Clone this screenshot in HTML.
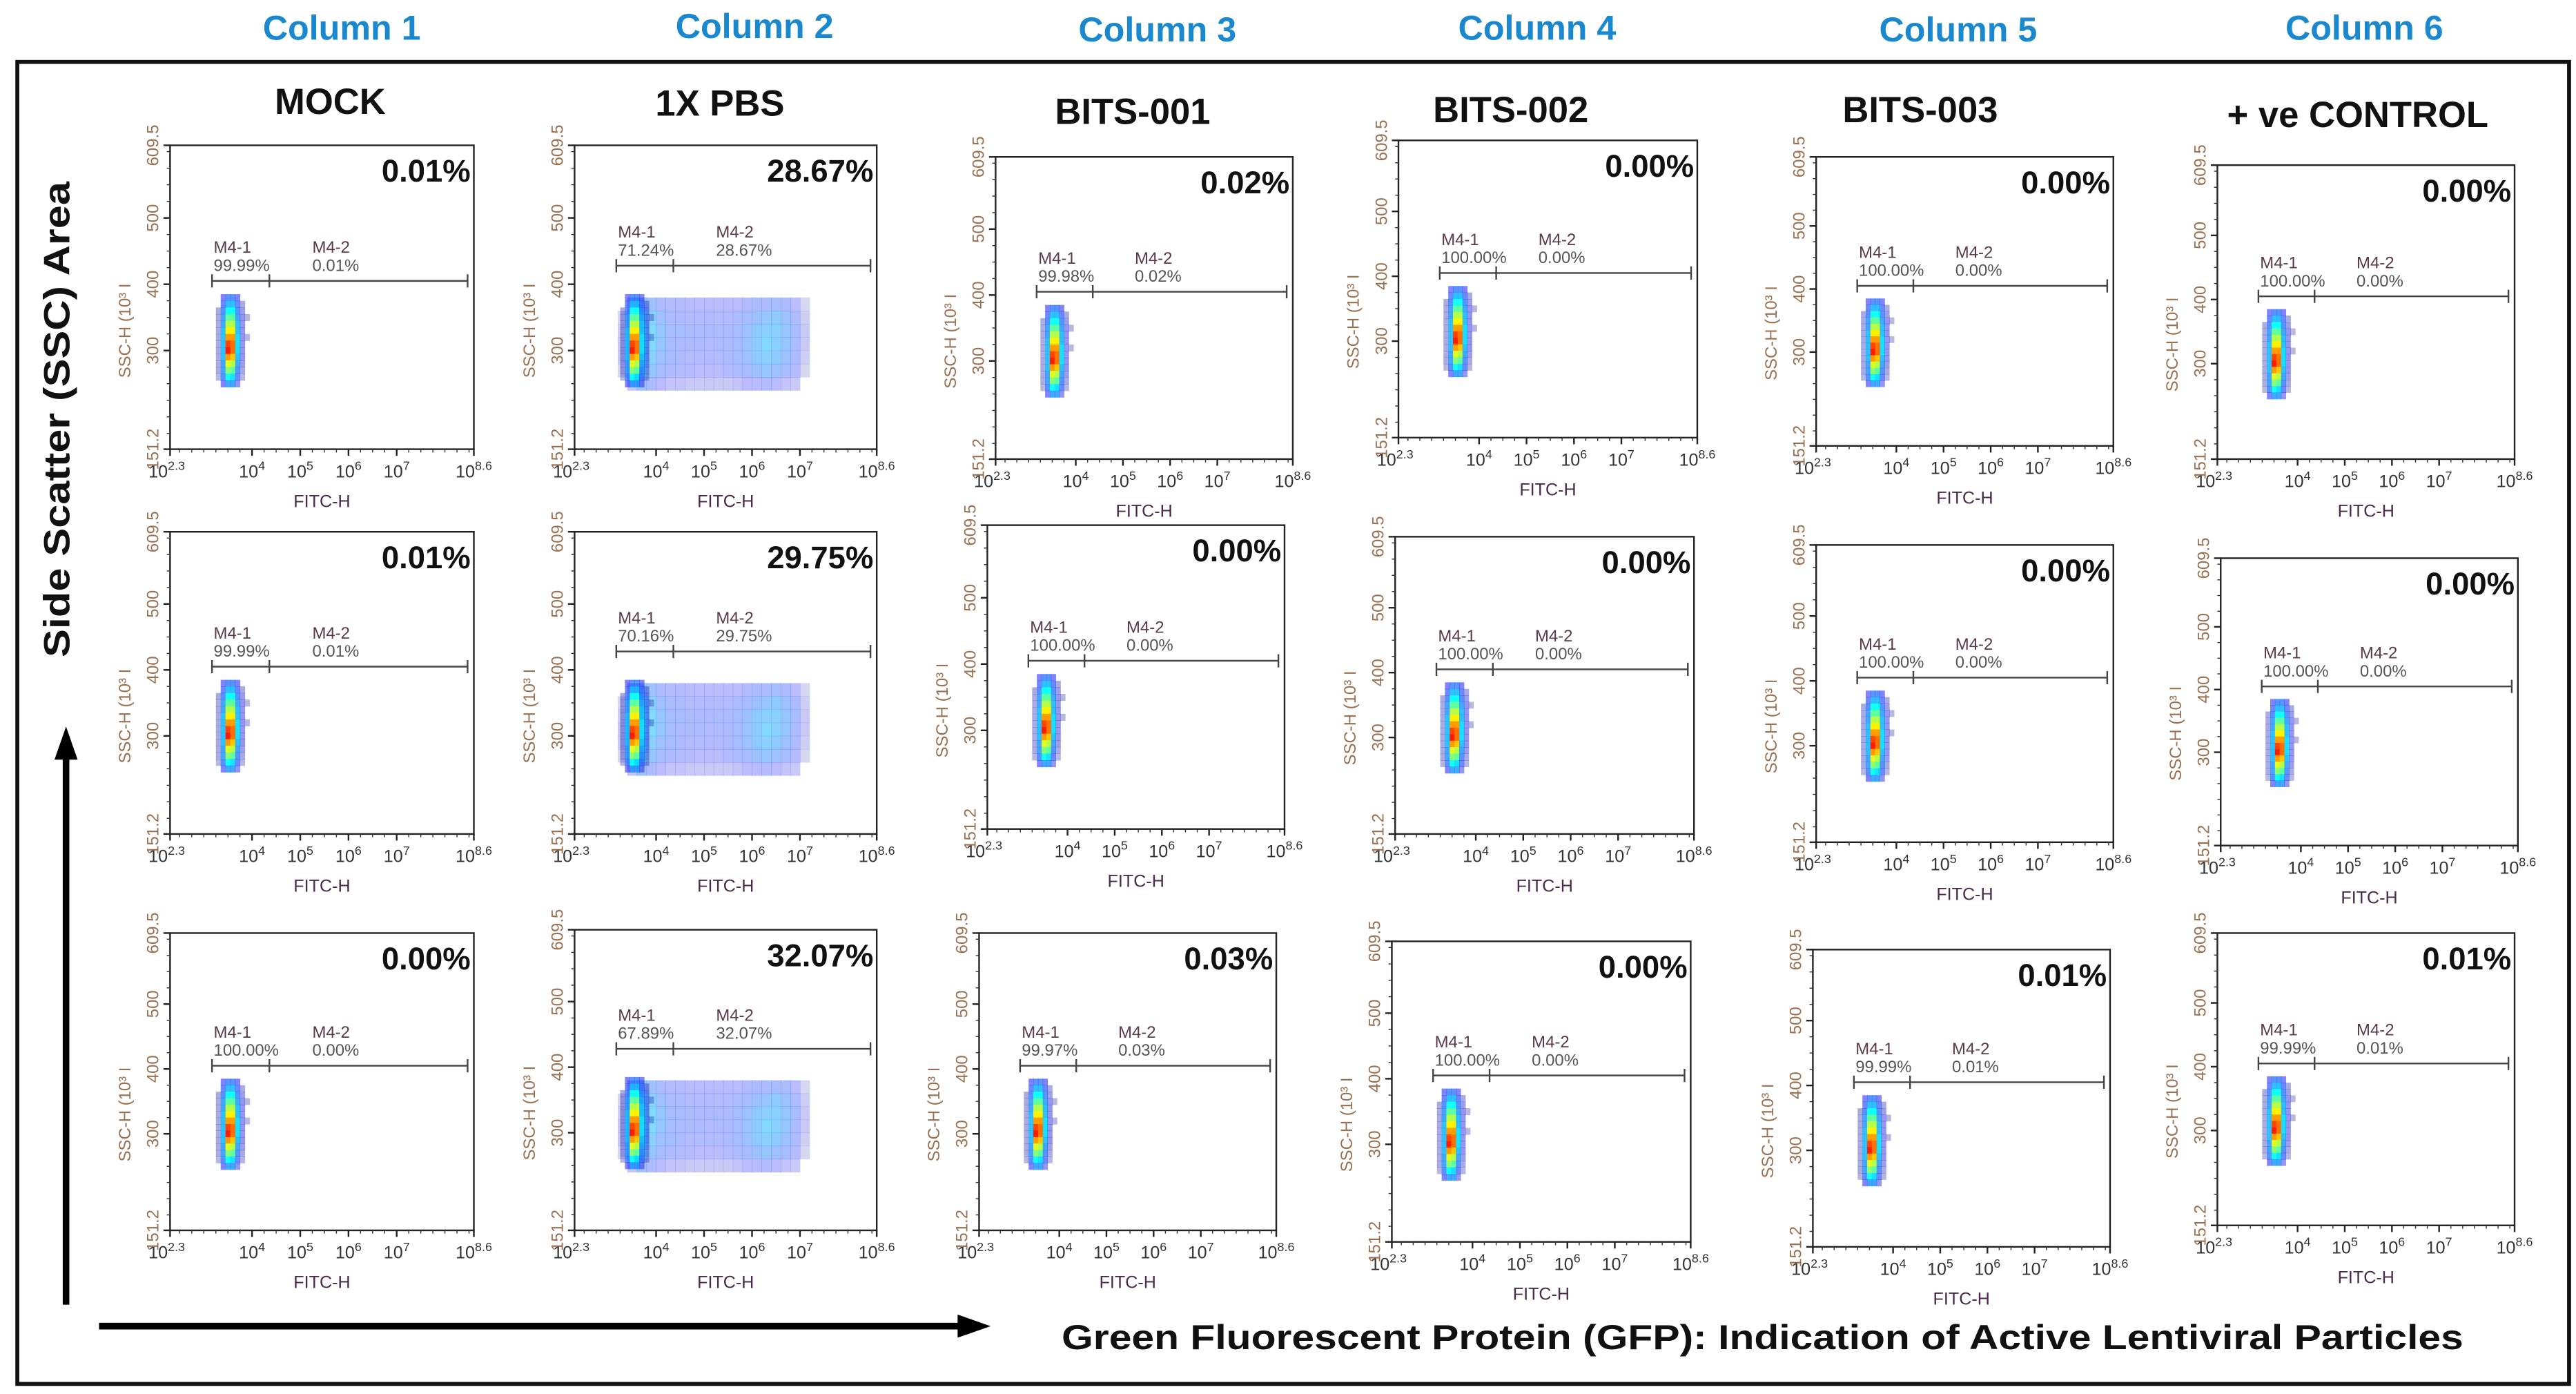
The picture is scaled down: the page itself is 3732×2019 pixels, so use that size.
<!DOCTYPE html>
<html><head><meta charset="utf-8"><style>
html,body{margin:0;padding:0;background:#fff;}
svg{display:block;font-family:"Liberation Sans",Arial,sans-serif;}
</style></head><body>
<svg id="fig" width="3732" height="2019" viewBox="0 0 1560.2 844.1" preserveAspectRatio="none" xmlns="http://www.w3.org/2000/svg">
<rect x="0" y="0" width="1560.2" height="844.1" fill="#fff"/>
<rect x="10.5" y="37.5" width="1545.5" height="800.5" fill="none" stroke="#111" stroke-width="2.4"/>
<g font-weight="bold" font-size="21" fill="#1a88cf" text-anchor="middle">
<text x="207" y="24">Column 1</text>
<text x="457" y="23">Column 2</text>
<text x="701" y="25">Column 3</text>
<text x="931" y="24">Column 4</text>
<text x="1186" y="25">Column 5</text>
<text x="1432" y="24">Column 6</text>
</g>
<g font-weight="bold" font-size="22" fill="#111" text-anchor="middle">
<text x="200" y="69">MOCK</text>
<text x="436" y="70">1X PBS</text>
<text x="686" y="75">BITS-001</text>
<text x="915" y="74">BITS-002</text>
<text x="1163" y="74">BITS-003</text>
<text x="1428" y="77">+ ve CONTROL</text>
</g>
<text transform="translate(42,254) rotate(-90)" text-anchor="middle" font-weight="bold" font-size="22" fill="#111" textLength="288" lengthAdjust="spacingAndGlyphs">Side  Scatter (SSC) Area</text>
<g>
<line x1="40" y1="790" x2="40" y2="458" stroke="#000" stroke-width="4"/>
<polygon points="40,440 33,460 47,460" fill="#000"/>
</g>
<g>
<line x1="60" y1="803" x2="582" y2="803" stroke="#000" stroke-width="4"/>
<polygon points="600,803 580,796 580,810" fill="#000"/>
</g>
<text x="643" y="817" font-weight="bold" font-size="21" fill="#111" textLength="849" lengthAdjust="spacingAndGlyphs">Green Fluorescent Protein (GFP): Indication of Active Lentiviral Particles</text>
<g id="panels"></g>
</svg>
<script>
// ---- data ----
const bigPercents = [
  ["0.01","28.67","0.02","0.00","0.00","0.00"],
  ["0.01","29.75","0.00","0.00","0.00","0.00"],
  ["0.00","32.07","0.03","0.00","0.01","0.01"]];
const m41Values = [
  ["99.99","71.24","99.98","100.00","100.00","100.00"],
  ["99.99","70.16","100.00","100.00","100.00","100.00"],
  ["100.00","67.89","99.97","100.00","99.99","99.99"]];
const m42Values = [
  ["0.01","28.67","0.02","0.00","0.00","0.00"],
  ["0.01","29.75","0.00","0.00","0.00","0.00"],
  ["0.00","32.07","0.03","0.00","0.01","0.01"]];
const gateExps = [3.17, 4.36, 8.47];
const gateSSC = [405, 428, 405, 405, 405, 405];
const xTickExps = [2.3, 4, 5, 6, 7, 8.6];
const xTickLabels = ["2.3", "4", "5", "6", "7", "8.6"];
const yTickValues = [151.2, 300, 400, 500, 609.5];
const yTickLabels = ["151.2", "300", "400", "500", "609.5"];
const narrowX = [3.3, 3.4, 3.5, 3.6, 3.7, 3.8, 3.9];
const narrowY = [380, 370, 360, 350, 340, 330, 320, 310, 300, 290, 280, 270, 260, 250];
const densityNarrow = [
 [0,.15,.25,.25,.15,0,0],
 [0,.2,.35,.35,.2,.05,0],
 [.05,.25,.45,.45,.25,.08,0],
 [.05,.3,.55,.55,.3,.1,.02],
 [.05,.3,.65,.65,.35,.1,0],
 [.05,.35,.75,.75,.35,.1,0],
 [.05,.35,.85,.85,.4,.1,.02],
 [.05,.35,.95,.9,.4,.1,0],
 [.05,.35,1,.9,.4,.1,0],
 [.05,.35,.85,.8,.35,.1,0],
 [.05,.3,.7,.65,.3,.08,0],
 [.05,.3,.6,.55,.25,.05,0],
 [.02,.25,.45,.4,.2,.02,0],
 [0,.15,.3,.3,.1,0,0]];
const wideX = [3.3,3.5,3.7,3.9,4.1,4.3,4.5,4.7,4.9,5.1,5.3,5.5,5.7,5.9,6.1,6.3,6.5,6.7,6.9,7.1];
const wideY = [370, 350, 330, 310, 290, 270, 250];
const densityWide = [
 [0,.15,.3,.25,.2,.18,.18,.15,.15,.15,.15,.15,.15,.18,.2,.2,.22,.2,.15,.05],
 [.05,.2,.4,.32,.25,.2,.2,.18,.18,.18,.18,.18,.2,.22,.25,.28,.3,.25,.2,.08],
 [.08,.25,.45,.35,.28,.22,.22,.2,.2,.2,.2,.2,.22,.25,.3,.32,.32,.28,.22,.1],
 [.1,.25,.45,.35,.28,.22,.2,.2,.2,.18,.2,.2,.22,.25,.3,.35,.32,.28,.2,.1],
 [.1,.25,.42,.32,.25,.22,.2,.18,.18,.18,.18,.2,.22,.25,.3,.32,.3,.25,.2,.08],
 [.05,.2,.38,.28,.22,.2,.18,.18,.15,.15,.15,.18,.2,.22,.25,.28,.25,.22,.18,.05],
 [0,.12,.25,.2,.15,.12,.12,.1,.1,.1,.1,.1,.12,.15,.15,.18,.15,.12,.1,0]];

// ---- layout (displayed units) ----
const colLefts = [[103,348,603,847,1100,1343],[103,348,598,845,1100,1345],[103,348,593,843,1098,1343]];
const rowTops = [[88,88,95,85,95,100],[322,322,318,325,330,338],[565,563,565,570,575,565]];
const rowBottoms = [[272,272,278,265,270,278],[505,505,502,505,510,512],[745,745,745,752,755,742]];
const colWidths = [184,183,180,181,180,180];

const NS = "http://www.w3.org/2000/svg";
const root = document.getElementById('panels');
function mk(tag, attrs, parent){ const e=document.createElementNS(NS,tag); for(const k in attrs) e.setAttribute(k,attrs[k]); (parent||root).appendChild(e); return e; }
function jet(v){ const t=Math.min(1,v)*0.85; const c=x=>Math.round(255*Math.max(0,Math.min(1,1.5-Math.abs(4*t-x)))); return `rgb(${c(3)},${c(2)},${c(1)})`; }

for(let r=0;r<3;r++){
 for(let c=0;c<6;c++){
  const P={x:colLefts[r][c], y:rowTops[r][c], w:colWidths[c], h:rowBottoms[r][c]-rowTops[r][c]};
  const xs=e=>P.x+(e-2.3)/6.3*P.w;
  const ys=v=>P.y+P.h-(v-151.2)/458.3*P.h;
  const g=mk('g',{});
  
  
  function drawGrid(X,Y,D,dx,dy,o0,o1){
   for(let i=0;i<Y.length;i++) for(let j=0;j<X.length;j++){
     const v=D[i][j]; if(!v) continue;
     const x0=xs(X[j]-dx/2), x1=xs(X[j]+dx/2), y0=ys(Y[i]+dy/2), y1=ys(Y[i]-dy/2);
     const cell=mk('rect',{x:x0,y:y0,width:x1-x0+0.2,height:y1-y0+0.2,fill:jet(v),'fill-opacity':Math.min(1,o0+v*o1)},g);
     
     
   }
  }
  if(c===1) drawGrid(wideX,wideY,densityWide,0.2,20,0.1,1.1);
  drawGrid(narrowX,narrowY,densityNarrow,0.1,10,0.25,1.6);
  const box=mk('rect',{x:P.x,y:P.y,width:P.w,height:P.h,fill:'none',stroke:'#222','stroke-width':1},g);
  
  
  for(let e=2.5;e<8.6;e+=0.25) mk('line',{x1:xs(e),x2:xs(e),y1:P.y+P.h,y2:P.y+P.h+2,stroke:'#333','stroke-width':0.6},g);
  xTickExps.forEach((e,i)=>{
   mk('line',{x1:xs(e),x2:xs(e),y1:P.y+P.h,y2:P.y+P.h+4,stroke:'#222','stroke-width':1},g);
   const t=mk('text',{x:xs(e)-(i===0?2:0),y:P.y+P.h+17,'font-size':10.5,fill:'#333','text-anchor':'middle'},g);
   
   
   t.textContent='10';
   const s=mk('tspan',{dy:-4.5,'font-size':7.5},t); s.textContent=xTickLabels[i];
  });
  const fx=mk('text',{x:P.x+P.w*0.5,y:P.y+P.h+35,'font-size':10.5,fill:'#4a2a4a','text-anchor':'middle'},g);
  
  
  fx.textContent='FITC-H';
  for(let v=175;v<609;v+=25) mk('line',{x1:P.x,x2:P.x-2,y1:ys(v),y2:ys(v),stroke:'#333','stroke-width':0.6},g);
  yTickValues.forEach((v,i)=>{
   mk('line',{x1:P.x,x2:P.x-4,y1:ys(v),y2:ys(v),stroke:'#222','stroke-width':1},g);
   const t=mk('text',{transform:`translate(${P.x-7},${ys(v)}) rotate(-90)`,'font-size':10,fill:'#9a7050','text-anchor':'middle'},g);
   
   
   t.textContent=yTickLabels[i];
  });
  const yl=mk('text',{transform:`translate(${P.x-24},${ys(330)}) rotate(-90)`,'font-size':10,fill:'#9a7050','text-anchor':'middle'},g);
  
  
  yl.textContent='SSC-H (10³ I';
  const gy=ys(gateSSC[c]);
  const gate=mk('path',{d:`M${xs(gateExps[0])},${gy}H${xs(gateExps[2])}M${xs(gateExps[0])},${gy-4}V${gy+4}M${xs(gateExps[1])},${gy-4}V${gy+4}M${xs(gateExps[2])},${gy-4}V${gy+4}`,stroke:'#444','stroke-width':1,fill:'none'},g);
  
  
  const l1=mk('text',{x:xs(gateExps[0])+1,y:gy-17,'font-size':10,fill:'#5a3a4a'},g);
  
  
  l1.textContent='M4-1';
  const p1=mk('text',{x:xs(gateExps[0])+1,y:gy-6,'font-size':10,fill:'#555'},g);
  
  
  p1.textContent=m41Values[r][c]+'%';
  const l2=mk('text',{x:xs(5.25),y:gy-17,'font-size':10,fill:'#5a3a4a'},g);
  
  
  l2.textContent='M4-2';
  const p2=mk('text',{x:xs(5.25),y:gy-6,'font-size':10,fill:'#555'},g);
  
  
  p2.textContent=m42Values[r][c]+'%';
  const bp=mk('text',{x:P.x+P.w-2,y:P.y+22,'font-size':19,'font-weight':'bold',fill:'#111','text-anchor':'end'},g);
  
  
  bp.textContent=bigPercents[r][c]+'%';
 }
}
</script>
</body></html>
